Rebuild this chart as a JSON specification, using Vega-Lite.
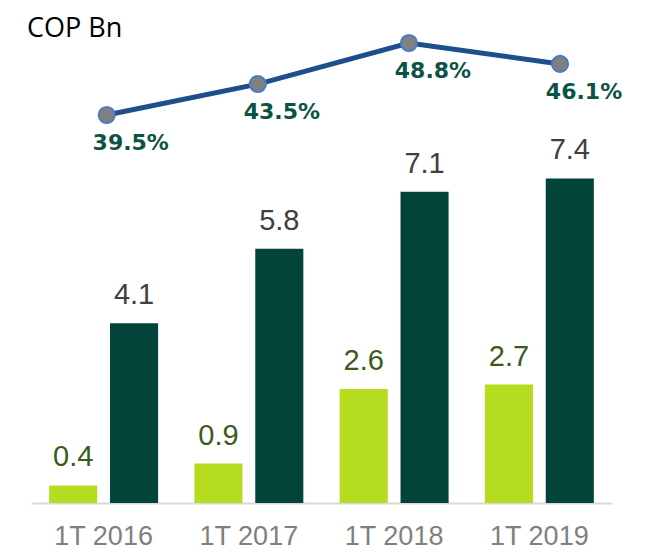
{
  "$schema": "https://vega.github.io/schema/vega-lite/v6.json",
  "autosize": "none",
  "width": 581,
  "height": 503,
  "padding": {"left": 31, "top": 0, "right": 37, "bottom": 46},
  "background": "white",
  "config": {"view": {"stroke": null}},
  "title": {"text": "COP Bn", "anchor": "start", "frame": "group", "orient": "top", "offset": -36, "dy": 28, "baseline": "alphabetic", "fontSize": 27, "font": "Open Sans", "fontWeight": "normal", "color": "#000000", "dx": -4},
  "datasets": {
    "bars": [
      {"period": "1T 2016", "series": "A", "value": 0.4},
      {"period": "1T 2016", "series": "B", "value": 4.1},
      {"period": "1T 2017", "series": "A", "value": 0.9},
      {"period": "1T 2017", "series": "B", "value": 5.8},
      {"period": "1T 2018", "series": "A", "value": 2.6},
      {"period": "1T 2018", "series": "B", "value": 7.1},
      {"period": "1T 2019", "series": "A", "value": 2.7},
      {"period": "1T 2019", "series": "B", "value": 7.4}
    ],
    "ratio": [
      {"period": "1T 2016", "pct": 0.395},
      {"period": "1T 2017", "pct": 0.435},
      {"period": "1T 2018", "pct": 0.488},
      {"period": "1T 2019", "pct": 0.461}
    ]
  },
  "layer": [
    {
      "data": {"name": "bars"},
      "encoding": {
        "x": {"field": "period", "type": "nominal", "sort": null,
          "scale": {"paddingInner": 0.25, "paddingOuter": 0.125},
          "axis": {"title": null, "domainColor": "#d9d9d9", "domainWidth": 2, "ticks": false, "labelAngle": 0, "labelFont": "Liberation Sans", "labelFontSize": 27, "labelColor": "#7f7f7f", "labelPadding": 20, "grid": false}},
        "xOffset": {"field": "series", "type": "nominal", "scale": {"paddingInner": 0.21, "paddingOuter": 0}},
        "y": {"field": "value", "type": "quantitative", "scale": {"domain": [0, 11.47], "nice": false, "zero": true}, "axis": null}
      },
      "layer": [
        {
          "mark": {"type": "bar"},
          "encoding": {
            "color": {"field": "series", "type": "nominal", "scale": {"domain": ["A", "B"], "range": ["#b5dc1e", "#03443a"]}, "legend": null}
          }
        },
        {
          "mark": {"type": "text", "baseline": "alphabetic", "dy": -19, "font": "Liberation Sans", "fontSize": 29},
          "encoding": {
            "text": {"field": "value", "type": "quantitative", "format": ".1f"},
            "color": {"condition": {"test": "datum.series === 'A'", "value": "#3d5a1e"}, "value": "#404040"}
          }
        }
      ]
    },
    {
      "data": {"name": "ratio"},
      "encoding": {
        "x": {"field": "period", "type": "nominal", "sort": null, "scale": {"type": "point", "padding": 0.4226, "align": 0.593}, "axis": null},
        "y": {"field": "pct", "type": "quantitative", "scale": {"domain": [-0.1063, 0.5436], "nice": false, "zero": false}, "axis": null}
      },
      "layer": [
        {"mark": {"type": "line", "color": "#1f4e8c", "strokeWidth": 5}},
        {"mark": {"type": "point", "shape": "circle", "filled": true, "size": 260, "fill": "#808080", "stroke": "#4a7ac8", "strokeWidth": 2, "opacity": 1}},
        {
          "mark": {"type": "text", "baseline": "alphabetic", "dx": 24, "dy": 35, "font": "DejaVu Sans", "fontWeight": "bold", "fontSize": 22, "color": "#0b5345"},
          "encoding": {"text": {"field": "pct", "type": "quantitative", "format": ".1%"}}
        }
      ]
    }
  ],
  "resolve": {"scale": {"x": "independent", "y": "independent"}}
}
